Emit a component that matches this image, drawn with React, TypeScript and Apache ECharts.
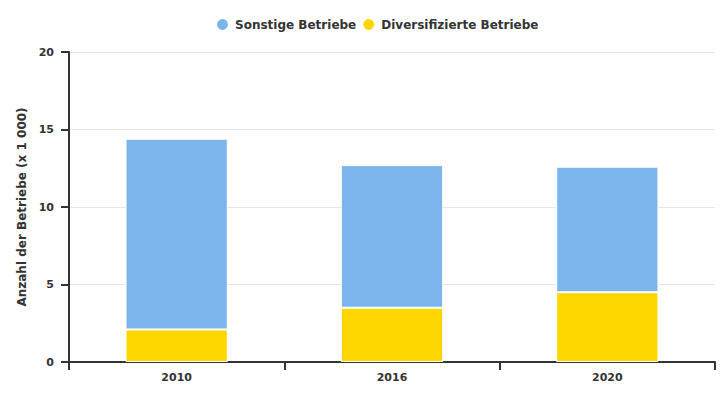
import React, { useEffect, useRef } from "react";
import * as echarts from "echarts";

const categories = ["2010", "2016", "2020"];
const diversifiziert = [2.1, 3.5, 4.5];
const sonstige = [12.3, 9.2, 8.1];
const yTicks = { min: 0, max: 20, interval: 5 };

const FONT = "'DejaVu Sans', Verdana, sans-serif";

export default function App() {
  const ref = useRef<HTMLDivElement>(null);
  useEffect(() => {
    if (!ref.current) return;
    const chart = echarts.init(ref.current, undefined, { renderer: "svg" });
    chart.setOption({
      animation: false,
      textStyle: { fontFamily: FONT },
      legend: {
        top: 12,
        left: 210,
        icon: "circle",
        itemWidth: 13,
        itemHeight: 13,
        itemGap: 5,
        data: ["Sonstige Betriebe", "Diversifizierte Betriebe"],
        textStyle: { fontFamily: FONT, fontSize: 12, fontWeight: "bold", color: "#333", padding: [0, 0, 0, 1] },
      },
      grid: { left: 69, right: 10, top: 52, bottom: 38, containLabel: false },
      xAxis: {
        type: "category",
        data: categories,
        axisLine: { show: true, lineStyle: { color: "#333", width: 2 } },
        axisTick: { show: true, length: 8, lineStyle: { color: "#333", width: 2 } },
        axisLabel: { fontFamily: FONT, fontSize: 11, fontWeight: "bold", color: "#333", margin: 10 },
      },
      yAxis: {
        type: "value",
        min: yTicks.min,
        max: yTicks.max,
        interval: yTicks.interval,
        name: "Anzahl der Betriebe (x 1 000)",
        nameLocation: "middle",
        nameRotate: 90,
        nameGap: 40,
        nameTextStyle: { fontFamily: FONT, fontSize: 12, fontWeight: "bold", color: "#333" },
        axisLine: { show: true, lineStyle: { color: "#333", width: 2 } },
        axisTick: { show: true, length: 8, lineStyle: { color: "#333", width: 2 } },
        axisLabel: { fontFamily: FONT, fontSize: 11, fontWeight: "bold", color: "#333", margin: 15 },
        splitLine: { show: true, lineStyle: { color: "#e6e6e6", width: 1 } },
      },
      series: [
        {
          name: "Diversifizierte Betriebe",
          type: "bar",
          stack: "total",
          barWidth: "47.5%",
          data: diversifiziert,
          itemStyle: { color: "#ffd700", borderColor: "#ffffff", borderWidth: 1 },
        },
        {
          name: "Sonstige Betriebe",
          type: "bar",
          stack: "total",
          barWidth: "47.5%",
          data: sonstige,
          itemStyle: { color: "#7cb5ec", borderColor: "#ffffff", borderWidth: 1 },
        },
      ],
    });
    return () => chart.dispose();
  }, []);
  return <div ref={ref} style={{ width: 725, height: 400, margin: -8 }} />;
}
